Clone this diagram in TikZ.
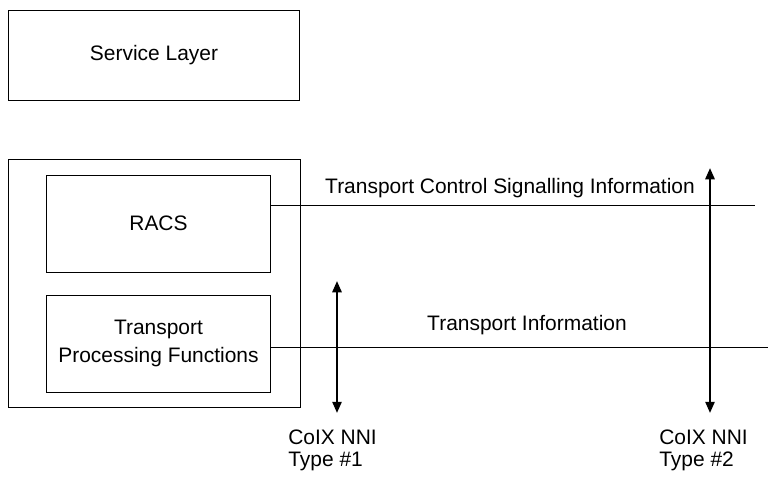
\documentclass[tikz,border=0pt]{standalone}
\usepackage{fontspec}
\setmainfont{Liberation Sans}
\usetikzlibrary{arrows.meta}

\begin{document}
\begin{tikzpicture}[x=0.025cm,y=-0.025cm,
        box/.style={draw,line width=0.7pt,inner sep=0pt,align=center},
        lbl/.style={inner sep=0pt,font=\fontsize{14.9}{17}\selectfont},
        nni/.style={{Triangle[length=8pt,width=6.5pt]}-{Triangle[length=8pt,width=6.5pt]},line width=1.6pt}]
        \useasboundingbox (0,0) rectangle (768,481);
        \node [box,lbl,minimum width=7.25cm,minimum height=2.225cm] (svc) at (154,55.5) {Service Layer};
        \node [box,minimum width=7.275cm,minimum height=6.175cm] (tl) at (154.5,283.5) {};
        \node [box,lbl,minimum width=5.575cm,minimum height=2.425cm] (racs) at (158.5,223.5) {RACS};
        \node [box,lbl,minimum width=5.575cm,minimum height=2.425cm,
               font=\fontsize{14.9}{19.5}\selectfont] (tpf) at (158.5,343.5) {Transport\\Processing Functions};
        \coordinate (sigend) at (755,205);
        \coordinate (tiend) at (768,347);
        \draw [line width=0.5pt] (racs.east |- sigend) -- (sigend);
        \draw [line width=0.5pt] (tpf.east |- tiend) -- (tiend);
        \node [lbl] (tcsi) at (510,188) {Transport Control Signalling Information};
        \node [lbl] (ti) at (527,325) {Transport Information};
        \coordinate (nni1top) at (337,281);
        \coordinate (nni1bot) at (337,413);
        \coordinate (nni2top) at (710,168);
        \coordinate (nni2bot) at (710,413);
        \draw [nni] (nni1top) -- (nni1bot);
        \draw [nni] (nni2top) -- (nni2bot);
        \node [lbl,align=left,anchor=north west,font=\fontsize{14.9}{15.6}\selectfont] (t1) at (288,430) {CoIX NNI\\Type \#1};
        \node [lbl,align=left,anchor=north west,font=\fontsize{14.9}{15.6}\selectfont] (t2) at (659,430) {CoIX NNI\\Type \#2};
\end{tikzpicture}
\end{document}
